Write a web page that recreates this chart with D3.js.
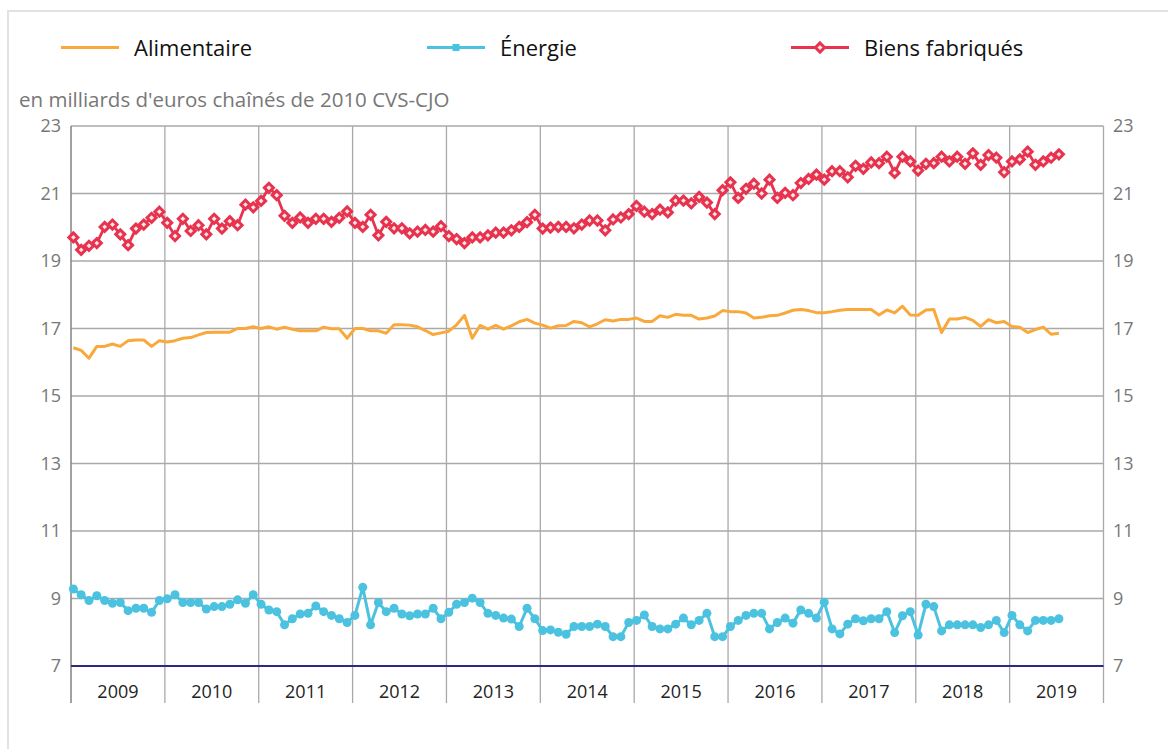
<!DOCTYPE html>
<html lang="fr">
<head>
<meta charset="utf-8">
<title>Consommation des ménages en biens</title>
<script src="https://cdn.jsdelivr.net/npm/d3@7"></script>
<style>
  html, body { margin: 0; padding: 0; background: #fff; }
  #chart { width: 1168px; height: 749px; }
  text { font-family: 'Open Sans', 'Noto Sans', sans-serif; }
</style>
</head>
<body>
<div id="chart"></div>
<script>
  // Monthly series, Jan 2009 -> Jul 2019 (127 months)
  const YEARS = ['2009', '2010', '2011', '2012', '2013', '2014', '2015', '2016', '2017', '2018', '2019'];
  const Y_TICKS = [7, 9, 11, 13, 15, 17, 19, 21, 23];
  const UNIT_LABEL = "en milliards d'euros chaînés de 2010 CVS-CJO";
  const SERIES_NAMES = ['Alimentaire', 'Énergie', 'Biens fabriqués'];

  const alimentaire = [
    16.43, 16.35, 16.12, 16.47, 16.47, 16.54, 16.47, 16.64, 16.66, 16.66, 16.47, 16.64, // 2009
    16.60, 16.64, 16.71, 16.73, 16.81, 16.88, 16.89, 16.89, 16.89, 17.00, 17.00, 17.05, // 2010
    17.00, 17.05, 16.98, 17.04, 16.98, 16.93, 16.93, 16.93, 17.04, 16.99, 16.99, 16.71, // 2011
    17.00, 17.00, 16.93, 16.93, 16.86, 17.11, 17.11, 17.10, 17.05, 16.94, 16.82, 16.87, // 2012
    16.92, 17.11, 17.39, 16.71, 17.09, 16.98, 17.09, 16.98, 17.08, 17.20, 17.27, 17.16, // 2013
    17.10, 17.01, 17.08, 17.09, 17.21, 17.17, 17.05, 17.14, 17.26, 17.22, 17.27, 17.27, // 2014
    17.31, 17.21, 17.21, 17.38, 17.33, 17.42, 17.39, 17.39, 17.28, 17.31, 17.37, 17.53, // 2015
    17.50, 17.50, 17.46, 17.31, 17.33, 17.38, 17.39, 17.46, 17.54, 17.56, 17.53, 17.47, // 2016
    17.47, 17.50, 17.54, 17.56, 17.56, 17.56, 17.56, 17.40, 17.55, 17.46, 17.66, 17.40, // 2017
    17.39, 17.55, 17.56, 16.88, 17.28, 17.28, 17.33, 17.24, 17.06, 17.26, 17.17, 17.21, // 2018
    17.06, 17.04, 16.88, 16.97, 17.04, 16.83, 16.86                                      // 2019
  ];

  const energie = [
    9.28, 9.11, 8.94, 9.08, 8.94, 8.86, 8.88, 8.64, 8.71, 8.71, 8.59, 8.94, // 2009
    8.99, 9.11, 8.88, 8.88, 8.88, 8.69, 8.76, 8.76, 8.83, 8.96, 8.86, 9.11, // 2010
    8.83, 8.66, 8.61, 8.22, 8.40, 8.54, 8.56, 8.78, 8.61, 8.50, 8.40, 8.29, // 2011
    8.50, 9.33, 8.22, 8.88, 8.61, 8.71, 8.54, 8.49, 8.54, 8.54, 8.71, 8.40, // 2012
    8.59, 8.83, 8.88, 9.01, 8.88, 8.56, 8.50, 8.42, 8.39, 8.17, 8.71, 8.40, // 2013
    8.05, 8.07, 8.00, 7.94, 8.17, 8.17, 8.17, 8.24, 8.17, 7.87, 7.87, 8.29, // 2014
    8.35, 8.51, 8.17, 8.10, 8.10, 8.24, 8.42, 8.22, 8.35, 8.56, 7.87, 7.87, // 2015
    8.17, 8.35, 8.50, 8.56, 8.56, 8.10, 8.29, 8.42, 8.27, 8.66, 8.56, 8.42, // 2016
    8.89, 8.10, 7.95, 8.24, 8.40, 8.34, 8.40, 8.40, 8.61, 7.99, 8.49, 8.61, // 2017
    7.92, 8.83, 8.76, 8.04, 8.22, 8.22, 8.22, 8.22, 8.14, 8.22, 8.35, 7.99, // 2018
    8.50, 8.22, 8.04, 8.35, 8.35, 8.35, 8.40                                // 2019
  ];

  const biensFabriques = [
    19.70, 19.33, 19.45, 19.53, 20.01, 20.08, 19.79, 19.47, 19.96, 20.08, 20.28, 20.46, // 2009
    20.13, 19.74, 20.25, 19.89, 20.06, 19.79, 20.25, 19.96, 20.18, 20.06, 20.67, 20.59, // 2010
    20.78, 21.17, 20.95, 20.34, 20.13, 20.29, 20.13, 20.25, 20.25, 20.16, 20.28, 20.47, // 2011
    20.13, 20.01, 20.37, 19.76, 20.16, 19.97, 19.97, 19.82, 19.87, 19.92, 19.87, 20.03, // 2012
    19.74, 19.65, 19.53, 19.70, 19.70, 19.76, 19.84, 19.84, 19.91, 20.01, 20.15, 20.37, // 2013
    19.96, 19.99, 20.01, 20.01, 19.97, 20.08, 20.20, 20.20, 19.91, 20.23, 20.29, 20.39, // 2014
    20.63, 20.46, 20.39, 20.52, 20.44, 20.79, 20.79, 20.71, 20.90, 20.73, 20.39, 21.10, // 2015
    21.33, 20.87, 21.14, 21.29, 21.00, 21.41, 20.87, 21.02, 20.95, 21.31, 21.43, 21.56, // 2016
    21.41, 21.66, 21.66, 21.48, 21.82, 21.73, 21.92, 21.90, 22.09, 21.61, 22.09, 21.95, // 2017
    21.68, 21.88, 21.90, 22.09, 21.95, 22.09, 21.88, 22.19, 21.85, 22.14, 22.06, 21.63, // 2018
    21.95, 22.01, 22.24, 21.85, 21.95, 22.06, 22.16                                      // 2019
  ];

  const COLORS = { alim: '#F9A93B', energie: '#4BC2DF', biens: '#E8334F' };
  const GRID = '#a9a9a9';
  const AXIS_BOTTOM = '#2D2B7C';
  const LABEL_GREY = '#777';

  function render() {
    const width = 1168, height = 749;
    const plot = { left: 71, right: 1103.5, top: 126, bottom: 666 };
    const monthOffset = 0.3; // points sit a little after the month boundary

    const svg = d3.select('#chart').append('svg')
      .attr('width', width)
      .attr('height', height)
      .attr('viewBox', `0 0 ${width} ${height}`);

    // outer frame
    svg.append('rect')
      .attr('x', 8).attr('y', 11)
      .attr('width', width + 10).attr('height', height + 10)
      .attr('fill', 'none')
      .attr('stroke', '#e2e2e2')
      .attr('stroke-width', 2);

    const totalMonths = YEARS.length * 12;
    const x = d3.scaleLinear().domain([0, totalMonths]).range([plot.left, plot.right]);
    const y = d3.scaleLinear().domain([7, 23]).range([plot.bottom, plot.top]);

    // horizontal grid
    svg.append('g').selectAll('line')
      .data(Y_TICKS.filter(v => v !== 7))
      .enter().append('line')
      .attr('x1', plot.left).attr('x2', plot.right)
      .attr('y1', d => y(d)).attr('y2', d => y(d))
      .attr('stroke', GRID).attr('stroke-width', 1.3);

    // vertical year separators (run down through the label band)
    const sepData = d3.range(0, YEARS.length + 1);
    svg.append('g').selectAll('line')
      .data(sepData)
      .enter().append('line')
      .attr('x1', d => x(d * 12)).attr('x2', d => x(d * 12))
      .attr('y1', plot.top).attr('y2', 703)
      .attr('stroke', d => (d === 0 ? '#8a8a8a' : GRID))
      .attr('stroke-width', d => (d === 0 ? 1.6 : 1.3));

    // bottom axis line
    svg.append('line')
      .attr('x1', plot.left).attr('x2', plot.right)
      .attr('y1', y(7)).attr('y2', y(7))
      .attr('stroke', AXIS_BOTTOM).attr('stroke-width', 2);

    // y labels left and right
    const tickFont = 18;
    svg.append('g').selectAll('text')
      .data(Y_TICKS)
      .enter().append('text')
      .attr('x', 61).attr('y', d => y(d))
      .attr('dy', '0.35em')
      .attr('text-anchor', 'end')
      .attr('font-size', tickFont)
      .attr('fill', LABEL_GREY)
      .text(d => d);
    svg.append('g').selectAll('text')
      .data(Y_TICKS)
      .enter().append('text')
      .attr('x', 1113).attr('y', d => y(d))
      .attr('dy', '0.35em')
      .attr('text-anchor', 'start')
      .attr('font-size', tickFont)
      .attr('fill', LABEL_GREY)
      .text(d => d);

    // year labels
    svg.append('g').selectAll('text')
      .data(YEARS)
      .enter().append('text')
      .attr('x', (d, i) => x(i * 12 + 6))
      .attr('y', 698)
      .attr('text-anchor', 'middle')
      .attr('font-size', tickFont)
      .attr('fill', '#222')
      .text(d => d);

    // unit label
    svg.append('text')
      .attr('x', 19).attr('y', 107)
      .attr('font-size', 20.5)
      .attr('fill', LABEL_GREY)
      .text(UNIT_LABEL);

    const px = i => x(i + monthOffset);
    const line = d3.line().x((d, i) => px(i)).y(d => y(d));

    // Alimentaire: plain line
    svg.append('path')
      .datum(alimentaire)
      .attr('d', line)
      .attr('fill', 'none')
      .attr('stroke', COLORS.alim)
      .attr('stroke-width', 3)
      .attr('stroke-linejoin', 'round');

    // Énergie: line + filled circles
    svg.append('path')
      .datum(energie)
      .attr('d', line)
      .attr('fill', 'none')
      .attr('stroke', COLORS.energie)
      .attr('stroke-width', 3)
      .attr('stroke-linejoin', 'round');
    svg.append('g').selectAll('circle')
      .data(energie)
      .enter().append('circle')
      .attr('cx', (d, i) => px(i))
      .attr('cy', d => y(d))
      .attr('r', 4.5)
      .attr('fill', COLORS.energie);

    // Biens fabriqués: line + hollow diamonds
    svg.append('path')
      .datum(biensFabriques)
      .attr('d', line)
      .attr('fill', 'none')
      .attr('stroke', COLORS.biens)
      .attr('stroke-width', 2.8)
      .attr('stroke-linejoin', 'round');
    const diamond = d3.symbol().type(d3.symbolDiamond2).size(52);
    svg.append('g').selectAll('path')
      .data(biensFabriques)
      .enter().append('path')
      .attr('d', diamond)
      .attr('transform', (d, i) => `translate(${px(i)},${y(d)})`)
      .attr('fill', '#fbe6ea')
      .attr('stroke', COLORS.biens)
      .attr('stroke-width', 3);

    // legend
    const legendItems = [
      { name: SERIES_NAMES[0], color: COLORS.alim, x0: 61, marker: null },
      { name: SERIES_NAMES[1], color: COLORS.energie, x0: 427, marker: 'square' },
      { name: SERIES_NAMES[2], color: COLORS.biens, x0: 791, marker: 'diamond' }
    ];
    const lg = svg.append('g');
    legendItems.forEach(it => {
      const ly = 47.5;
      lg.append('line')
        .attr('x1', it.x0).attr('x2', it.x0 + 58)
        .attr('y1', ly).attr('y2', ly)
        .attr('stroke', it.color).attr('stroke-width', 3);
      if (it.marker === 'square') {
        lg.append('path')
          .attr('d', d3.symbol().type(d3.symbolSquare).size(50))
          .attr('transform', `translate(${it.x0 + 29},${ly})`)
          .attr('fill', it.color);
      } else if (it.marker === 'diamond') {
        lg.append('path')
          .attr('d', diamond)
          .attr('transform', `translate(${it.x0 + 29},${ly})`)
          .attr('fill', '#fbe6ea')
          .attr('stroke', it.color)
          .attr('stroke-width', 3);
      }
      lg.append('text')
        .attr('x', it.x0 + 73).attr('y', 56)
        .attr('font-size', 22)
        .attr('fill', '#111')
        .text(it.name);
    });
  }

  document.addEventListener('DOMContentLoaded', render);
</script>
</body>
</html>
